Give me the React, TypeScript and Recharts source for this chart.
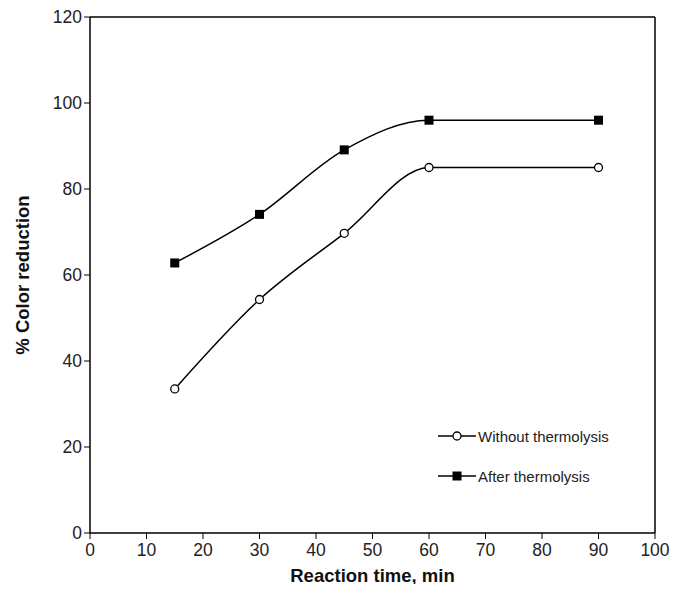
import { LineChart, Line, XAxis, YAxis, ReferenceLine } from "recharts";

const times = [15, 30, 45, 60, 90];
const withoutThermolysis = [33.5, 54.3, 69.7, 85.0, 85.0];
const afterThermolysis = [62.8, 74.1, 89.1, 96.0, 96.0];
const xTicks = [0, 10, 20, 30, 40, 50, 60, 70, 80, 90, 100];
const yTicks = [0, 20, 40, 60, 80, 100, 120];

const data = times.map((t, i) => ({
  t,
  without: withoutThermolysis[i],
  after: afterThermolysis[i],
}));

const font = "Arial, 'Liberation Sans', sans-serif";

const Square = (props: any) => {
  const { cx, cy } = props;
  if (cx == null || cy == null) return null;
  return <rect x={cx - 4.5} y={cy - 4.5} width={9} height={9} fill="#000" />;
};

const Circle = (props: any) => {
  const { cx, cy } = props;
  if (cx == null || cy == null) return null;
  return <circle cx={cx} cy={cy} r={4} fill="#fff" stroke="#000" strokeWidth={1.3} />;
};

function LegendBox() {
  const row = (label: string, marker: "circle" | "square") => (
    <div style={{ display: "flex", alignItems: "center", height: 20, marginBottom: 20 }}>
      <svg width={38} height={14}>
        <line x1={0} y1={7} x2={38} y2={7} stroke="#000" strokeWidth={1.5} />
        {marker === "circle" ? (
          <circle cx={19} cy={7} r={4} fill="#fff" stroke="#000" strokeWidth={1.3} />
        ) : (
          <rect x={14.5} y={2.5} width={9} height={9} fill="#000" />
        )}
      </svg>
      <span style={{ marginLeft: 2, fontSize: 15, color: "#222", fontFamily: font }}>{label}</span>
    </div>
  );
  return (
    <div style={{ position: "absolute", left: 438, top: 426 }}>
      {row("Without thermolysis", "circle")}
      {row("After thermolysis", "square")}
    </div>
  );
}

export default function App() {
  return (
    <div style={{ margin: -8, background: "#fff", position: "relative", width: 680, height: 592 }}>
      <LineChart width={680} height={592} data={data} margin={{ top: 17, right: 25, bottom: 6, left: 30 }}>
        <XAxis
          dataKey="t"
          type="number"
          domain={[0, 100]}
          ticks={xTicks}
          height={53}
          tick={{ fontSize: 17.5, fill: "#222", fontFamily: font, dy: 3 }}
          tickLine={{ stroke: "#000" }}
          axisLine={{ stroke: "#000", strokeWidth: 1.5 }}
          tickSize={6}
          label={{
            value: "Reaction time, min",
            position: "insideBottom",
            offset: 4,
            style: { fontSize: 18.5, fontWeight: "bold", fill: "#111", fontFamily: font },
          }}
        />
        <YAxis
          type="number"
          domain={[0, 120]}
          ticks={yTicks}
          width={60}
          tick={{ fontSize: 17.5, fill: "#222", fontFamily: font }}
          tickLine={{ stroke: "#000" }}
          axisLine={{ stroke: "#000", strokeWidth: 1.5 }}
          tickSize={6}
          label={{
            value: "% Color reduction",
            angle: -90,
            position: "insideLeft",
            offset: -8,
            style: { fontSize: 18.5, fontWeight: "bold", fill: "#111", fontFamily: font, textAnchor: "middle" },
          }}
        />
        <ReferenceLine y={120} stroke="#000" strokeWidth={1.5} />
        <ReferenceLine x={100} stroke="#000" strokeWidth={1.5} />
        <Line
          dataKey="without"
          name="Without thermolysis"
          type="monotone"
          stroke="#000"
          strokeWidth={1.5}
          dot={<Circle />}
          isAnimationActive={false}
        />
        <Line
          dataKey="after"
          name="After thermolysis"
          type="monotone"
          stroke="#000"
          strokeWidth={1.5}
          dot={<Square />}
          isAnimationActive={false}
        />
      </LineChart>
      <LegendBox />
    </div>
  );
}
